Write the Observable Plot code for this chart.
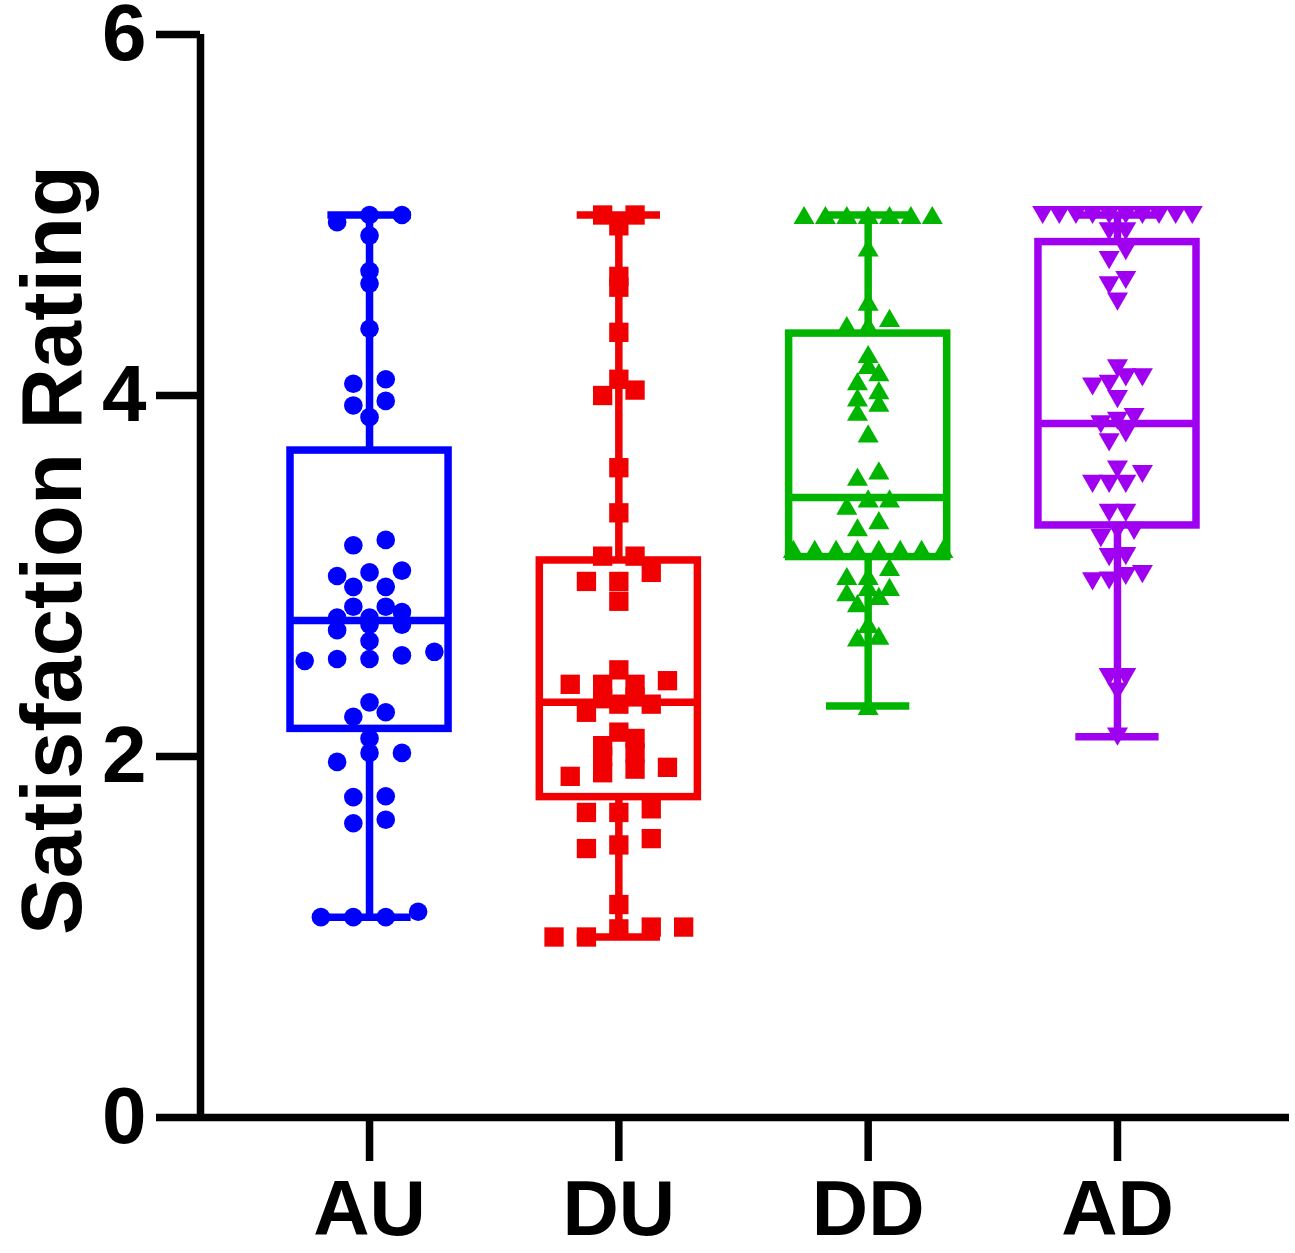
<!DOCTYPE html>
<html>
<head>
<meta charset="utf-8">
<script src="https://cdn.jsdelivr.net/npm/d3@7"></script>
<script src="https://cdn.jsdelivr.net/npm/@observablehq/plot@0.6"></script>
<style>
  html, body { margin: 0; padding: 0; background: #ffffff; }
  #chart svg { display: block; }
</style>
</head>
<body>
<div id="chart"></div>
<script>
// ---------- data ----------
const groups = ["AU", "DU", "DD", "AD"];
const colors = ["#0000FF", "#F00000", "#00B400", "#A000F0"];

const valuesAU = [5.0, 5.0, 4.96, 4.886, 4.69, 4.62, 4.37, 4.09, 4.065, 3.97, 3.945, 3.88,
  3.20, 3.17, 3.03, 3.02, 3.00, 2.94, 2.94, 2.83, 2.83, 2.80, 2.77, 2.77, 2.73, 2.73, 2.70,
  2.64, 2.58, 2.56, 2.54, 2.54, 2.53, 2.30, 2.245, 2.22, 2.10, 2.02, 2.02, 1.97,
  1.78, 1.775, 1.65, 1.63, 1.14, 1.11, 1.11, 1.11];
const valuesDU = [5.0, 5.0, 4.94, 4.66, 4.60, 4.35, 4.09, 4.03, 4.00, 3.60, 3.35, 3.11, 3.11,
  3.02, 2.97, 2.97, 2.86, 2.48, 2.42, 2.40, 2.40, 2.40, 2.33, 2.32, 2.29, 2.29, 2.245,
  2.135, 2.10, 2.06, 2.02, 2.00, 1.94, 1.93, 1.91, 1.89,
  1.71, 1.69, 1.69, 1.545, 1.51, 1.49, 1.18, 1.055, 1.055, 1.045, 1.0, 1.0];
const valuesDD = [5.0, 5.0, 5.0, 5.0, 5.0, 5.0, 5.0, 4.82,
  4.52, 4.43, 4.39, 4.39, 4.23, 4.17, 4.13, 4.08, 4.03, 3.99, 3.96, 3.91, 3.79,
  3.585, 3.55, 3.43, 3.43, 3.39, 3.31, 3.27,
  3.15, 3.15, 3.15, 3.15, 3.15, 3.15, 3.15, 3.15,
  3.05, 3.00, 3.00, 2.94, 2.94, 2.91, 2.89, 2.85, 2.735, 2.67, 2.66, 2.28];
const valuesAD = [5.0, 5.0, 5.0, 5.0, 5.0, 5.0, 5.0, 5.0, 5.0, 5.0, 4.91, 4.91,
  4.80, 4.75, 4.64, 4.61, 4.52, 4.15, 4.10, 4.10, 4.065, 4.05, 3.98,
  3.88, 3.86, 3.84, 3.79, 3.74, 3.59, 3.565, 3.51, 3.51, 3.51,
  3.35, 3.35, 3.25, 3.25, 3.21, 3.11, 3.105, 3.01, 3.00, 2.975, 2.97,
  2.44, 2.44, 2.36, 2.11];

const whiskerLow  = [1.11, 1.0, 2.28, 2.11];
const quartile1   = [2.153, 1.775, 3.105, 3.28];
const medians     = [2.753, 2.30, 3.435, 3.845];
const quartile3   = [3.695, 3.086, 4.343, 4.85];
const whiskerHigh = [5.0, 5.0, 5.0, 5.0];

const yTicks = [0, 2, 4, 6];
const yTitle = "Satisfaction Rating";

// ---------- layout helpers ----------
const allValues = [valuesAU, valuesDU, valuesDD, valuesAD];
const ROW = 0.06;        // values closer than this share a horizontal row
function scatterLayout(values, gi) {
  const sorted = values.slice().sort((a, b) => a - b);
  const rows = [];
  let cur = null;
  for (const v of sorted) {
    if (!cur || v - cur[0] >= ROW - 1e-9) { cur = [v]; rows.push(cur); } else cur.push(v);
  }
  const maxN = d3.max(rows, r => r.length);
  const step = Math.min(0.13, 0.30 / Math.max(1, (maxN - 1) / 2));
  const out = [];
  for (const r of rows) {
    r.forEach((v, i) => out.push({gi, group: groups[gi], value: v, xp: gi + (i - (r.length - 1) / 2) * step}));
  }
  return out;
}
const points = allValues.map((vals, gi) => scatterLayout(vals, gi));

const stats = groups.map((g, i) => ({
  i, group: g, lo: whiskerLow[i], q1: quartile1[i], med: medians[i], q3: quartile3[i], hi: whiskerHigh[i], color: colors[i]
}));

// custom triangles (bounding-box centred)
function tri(up) {
  return {
    draw(context, size) {
      const y = Math.sqrt(size / (Math.sqrt(3) * 3));
      const h = 1.5 * y, w = Math.sqrt(3) * y;
      if (up) { context.moveTo(0, -h); context.lineTo(w, h); context.lineTo(-w, h); }
      else    { context.moveTo(0, h); context.lineTo(-w, -h); context.lineTo(w, -h); }
      context.closePath();
    }
  };
}
const symbols = ["circle", "square", tri(true), tri(false)];
const radii = [9.3, 10.9, 7.8, 7.8];

const SW = 7.5;
const BOX = 0.317, CAP = 0.167;
const xDomain = [-0.678, 3.69];

const plot = Plot.plot({
  width: 1295,
  height: 1253,
  marginLeft: 200,
  marginRight: 6,
  marginTop: 34,
  marginBottom: 136,
  style: {fontFamily: "'Liberation Sans', Arial, Helvetica, sans-serif", background: "#ffffff", color: "#000000"},
  x: {type: "linear", domain: xDomain},
  y: {domain: [0, 6]},
  color: {type: "identity"},
  marks: [
    Plot.ruleY([0], {strokeWidth: SW}),
    Plot.ruleX([xDomain[0]], {y1: 0, y2: 6, strokeWidth: SW}),
    Plot.axisY({ticks: yTicks, tickFormat: d => String(d), tickSize: 44, tickPadding: 10, strokeWidth: SW, fontSize: 80, fontWeight: "bold", label: null}),
    Plot.axisX({ticks: [0, 1, 2, 3], tickFormat: i => groups[i], tickSize: 44, tickPadding: 18, strokeWidth: SW, fontSize: 78, fontWeight: "bold", label: null}),
    Plot.ruleX(stats, {x: "i", y1: "lo", y2: "q1", stroke: "color", strokeWidth: SW}),
    Plot.ruleX(stats, {x: "i", y1: "q3", y2: "hi", stroke: "color", strokeWidth: SW}),
    Plot.ruleY(stats, {y: "lo", x1: d => d.i - CAP, x2: d => d.i + CAP, stroke: "color", strokeWidth: SW}),
    Plot.ruleY(stats, {y: "hi", x1: d => d.i - CAP, x2: d => d.i + CAP, stroke: "color", strokeWidth: SW}),
    Plot.rect(stats, {x1: d => d.i - BOX, x2: d => d.i + BOX, y1: "q1", y2: "q3", stroke: "color", fill: "none", strokeWidth: SW}),
    Plot.ruleY(stats, {y: "med", x1: d => d.i - BOX, x2: d => d.i + BOX, stroke: "color", strokeWidth: SW}),
    ...points.map((pts, gi) => Plot.dot(pts, {x: "xp", y: "value", symbol: symbols[gi], r: radii[gi], fill: colors[gi], stroke: "none"})),
    Plot.text([yTitle], {frameAnchor: "left", textAnchor: "middle", rotate: -90, dx: -147, dy: -26, fontSize: 85, fontWeight: "bold", fill: "#000000"})
  ]
});
document.getElementById("chart").appendChild(plot);
</script>
</body>
</html>
